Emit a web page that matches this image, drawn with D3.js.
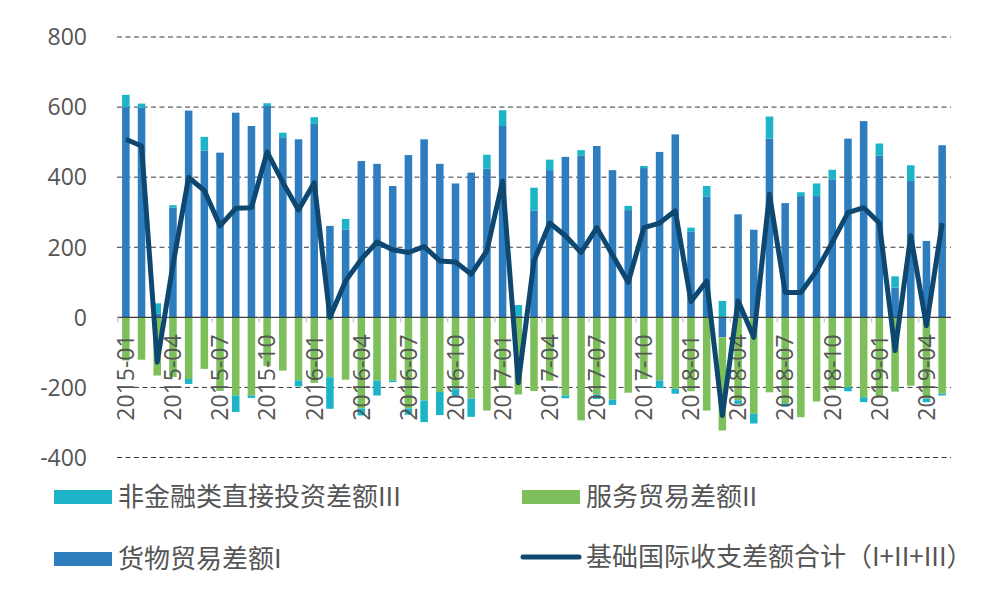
<!DOCTYPE html>
<html>
<head>
<meta charset="utf-8">
<script src="https://cdn.jsdelivr.net/npm/d3@7"></script>
<style>
  html, body { margin: 0; padding: 0; background: #fff; }
  svg { display: block; }
  text { font-family: "Open Sans", "Noto Sans CJK SC", sans-serif; fill: #555; }
  .cjk { font-family: "Noto Sans CJK SC", sans-serif; }
</style>
</head>
<body>
<div id="chart"></div>
<script>
// 月份 2015-01 ~ 2019-05
const months = []
for (let y = 2015; y <= 2019; y++) {
    for (let m = 1; m <= 12; m++) {
        if (y === 2019 && m > 5) break
        months.push(`${y}-${String(m).padStart(2, '0')}`)
    }
}

// 货物贸易差额I
const goods = [600, 598, 10, 313, 590, 476, 470, 584, 546, 603, 514, 508,
    552, 261, 251, 446, 438, 375, 463, 508, 438, 382, 413, 424,
    546, 5, 304, 420, 458, 462, 489, 420, 306, 426, 472, 522,
    244, 344, -57, 294, 250, 510, 326, 346, 346, 394, 510, 560,
    462, 85, 389, 218, 491]

// 服务贸易差额II
const services = [-123, -121, -166, -170, -176, -147, -210, -223, -223, -139, -152, -180,
    -187, -171, -178, -260, -180, -180, -260, -237, -213, -205, -232, -266,
    -202, -220, -210, -181, -223, -294, -220, -235, -215, -176, -180, -204,
    -211, -266, -266, -237, -275, -214, -245, -285, -240, -207, -199, -228,
    -227, -212, -195, -232, -218]

// 非金融类直接投资差额III
const fdi = [35, 12, 30, 7, -14, 39, 0, -47, -7, 8, 13, -17,
    19, -90, 30, -20, -43, -5, -18, -62, -66, -19, -52, 40,
    45, 30, 66, 30, -8, 15, -13, -15, 12, 6, -22, -14,
    12, 31, 47, -10, -28, 63, -10, 11, 36, 27, -12, -14,
    34, 32, 45, -10, -5]

// 基础国际收支差额合计（I+II+III）
const total = [508, 489, -128, 150, 399, 362, 261, 311, 313, 472, 385, 306,
    384, 0, 104, 166, 215, 193, 185, 202, 161, 158, 123, 190,
    389, -187, 161, 269, 233, 185, 256, 178, 100, 256, 269, 304,
    45, 104, -280, 47, -57, 351, 71, 71, 133, 214, 299, 313,
    269, -95, 233, -24, 269]

const yTicks = [-400, -200, 0, 200, 400, 600, 800]

const colors = {
    goods: '#2e7dbe',
    services: '#7cbf5b',
    fdi: '#1db4c8',
    total: '#0e4870'
}

const width = 1000
const height = 602

const svg = d3.select('#chart').append('svg')
    .attr('width', width)
    .attr('height', height)

const x = d3.scaleBand()
    .domain(months)
    .range([118, 950])
    .paddingInner(0.52)
    .paddingOuter(0.26)

const y = d3.scaleLinear()
    .domain([-400, 800])
    .range([457.5, 37])

// 网格线
svg.append('g')
    .selectAll('line')
    .data(yTicks.filter(d => d !== 0))
    .join('line')
    .attr('x1', 117)
    .attr('x2', 951)
    .attr('y1', d => y(d))
    .attr('y2', d => y(d))
    .attr('stroke', '#3a3a3a')
    .attr('stroke-width', 1)
    .attr('stroke-dasharray', '5,3.5')

// y轴文字
svg.append('g')
    .selectAll('text')
    .data(yTicks)
    .join('text')
    .attr('x', 87)
    .attr('y', d => y(d))
    .attr('dy', '0.36em')
    .attr('text-anchor', 'end')
    .style('font-size', '23px')
    .text(d => d)

// 堆叠柱
const table = months.map((m, i) => ({month: m, goods: goods[i], services: services[i], fdi: fdi[i]}))
const stack = d3.stack()
    .keys(['goods', 'services', 'fdi'])
    .offset(d3.stackOffsetDiverging)
const series = stack(table)

svg.append('g')
    .selectAll('g')
    .data(series)
    .join('g')
    .attr('fill', d => colors[d.key])
    .selectAll('rect')
    .data(d => d)
    .join('rect')
    .attr('x', d => x(d.data.month))
    .attr('width', x.bandwidth())
    .attr('y', d => y(Math.max(d[0], d[1])))
    .attr('height', d => Math.abs(y(d[0]) - y(d[1])))

// 零线和刻度
svg.append('line')
    .attr('x1', 117)
    .attr('x2', 951)
    .attr('y1', y(0))
    .attr('y2', y(0))
    .attr('stroke', '#404040')
    .attr('stroke-width', 1.2)

const step = x.step()
svg.append('g')
    .selectAll('line')
    .data(months.filter((d, i) => i % 3 === 0))
    .join('line')
    .attr('x1', d => x(d) - step * 0.26)
    .attr('x2', d => x(d) - step * 0.26)
    .attr('y1', y(0))
    .attr('y2', y(0) + 5)
    .attr('stroke', '#c8c8c8')
    .attr('stroke-width', 1.5)

// x轴文字（竖排）
svg.append('g')
    .selectAll('text')
    .data(months.filter((d, i) => i % 3 === 0))
    .join('text')
    .attr('transform', d => `translate(${x(d) + x.bandwidth() / 2}, ${y(0) + 17}) rotate(-90)`)
    .attr('dy', '0.36em')
    .attr('text-anchor', 'end')
    .style('font-size', '23px')
    .text(d => d)

// 合计折线
const line = d3.line()
    .x((d, i) => x(months[i]) + x.bandwidth() / 2)
    .y(d => y(d))

svg.append('path')
    .datum(total)
    .attr('d', line)
    .attr('fill', 'none')
    .attr('stroke', colors.total)
    .attr('stroke-width', 5)
    .attr('stroke-linejoin', 'round')

// 图例
const legendItems = [
    {label: '非金融类直接投资差额III', key: 'fdi', type: 'rect', x: 54, y: 497},
    {label: '服务贸易差额II', key: 'services', type: 'rect', x: 522, y: 497},
    {label: '货物贸易差额I', key: 'goods', type: 'rect', x: 54, y: 559},
    {label: '基础国际收支差额合计（I+II+III）', key: 'total', type: 'line', x: 522, y: 557}
]

const legend = svg.append('g')
    .selectAll('g')
    .data(legendItems)
    .join('g')
    .attr('transform', d => `translate(${d.x}, ${d.y})`)

legend.filter(d => d.type === 'rect')
    .append('rect')
    .attr('x', 0)
    .attr('y', -7)
    .attr('width', 58)
    .attr('height', 14)
    .attr('fill', d => colors[d.key])

legend.filter(d => d.type === 'line')
    .append('line')
    .attr('x1', 1)
    .attr('x2', 57)
    .attr('stroke', d => colors[d.key])
    .attr('stroke-width', 5)
    .attr('stroke-linecap', 'round')

legend.append('text')
    .attr('class', 'cjk')
    .attr('x', 64)
    .attr('dy', '0.36em')
    .style('font-size', '26px')
    .text(d => d.label)
</script>
</body>
</html>
